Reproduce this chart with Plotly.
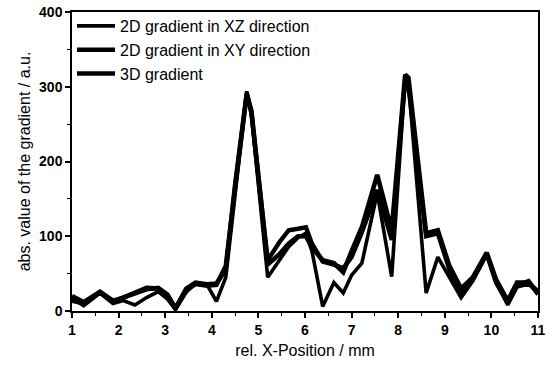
import plotly.graph_objects as go

# rel. X-position (mm)
x_pos = [1.0, 1.25, 1.6, 1.88, 2.1, 2.35, 2.6, 2.85, 3.05, 3.22, 3.45, 3.65, 3.9, 4.1,
         4.3, 4.5, 4.75, 4.85, 5.2, 5.45, 5.65, 5.85, 6.02, 6.15, 6.38, 6.62, 6.82, 7.0,
         7.22, 7.55, 7.86, 8.15, 8.22, 8.6, 8.85, 9.1, 9.35, 9.6, 9.9, 10.1, 10.35, 10.55,
         10.8, 11.0]

grad_xz = [18, 7, 24, 10, 14, 8, 18, 26, 16, 2, 25, 37, 35, 13,
           45, 160, 294, 262, 45, 68, 86, 98, 104, 80, 6, 38, 24, 48,
           64, 158, 46, 312, 305, 24, 72, 45, 18, 40, 76, 40, 8, 32,
           36, 24]
grad_xy = [14, 10, 25, 12, 18, 25, 31, 30, 20, 3, 28, 36, 34, 35,
           60, 165, 290, 268, 62, 76, 90, 100, 100, 85, 68, 64, 52, 80,
           112, 182, 108, 316, 312, 104, 108, 60, 30, 45, 78, 42, 14, 38,
           38, 26]
grad_3d = [20, 12, 26, 14, 18, 24, 29, 31, 22, 4, 30, 38, 36, 37,
           55, 170, 292, 265, 68, 92, 108, 110, 112, 90, 66, 62, 57, 72,
           105, 162, 95, 310, 300, 100, 104, 55, 25, 42, 76, 38, 10, 35,
           40, 22]

series = [("2D gradient in XZ direction", grad_xz, 3.6),
          ("2D gradient in XY direction", grad_xy, 4.6),
          ("3D gradient", grad_3d, 4.4)]

fig = go.Figure()
for name, vals, w in series:
    fig.add_trace(go.Scatter(x=x_pos, y=vals, mode="lines", name=name,
                             line=dict(color="black", width=w)))

font_family = "Liberation Sans, Arial, sans-serif"
fig.update_layout(
    width=547, height=365,
    margin=dict(l=72, r=9, t=12, b=54, autoexpand=False),
    paper_bgcolor="white", plot_bgcolor="white",
    font=dict(family=font_family, color="black", size=14),
    showlegend=True,
    legend=dict(x=0.0, y=1.01, xanchor="left", yanchor="top",
                bgcolor="rgba(0,0,0,0)", borderwidth=0,
                font=dict(size=16, family=font_family),
                itemwidth=38, tracegroupgap=0,
                traceorder="normal"),
)
fig.update_xaxes(
    range=[1, 11], showgrid=False, zeroline=False, automargin=False,
    showline=True, linecolor="black", linewidth=1.5, mirror=True,
    ticks="outside", ticklen=5, tickwidth=1.5, tickcolor="black",
    tick0=1, dtick=1,
    tickfont=dict(size=14, family=font_family, weight="bold"),
    minor=dict(ticks="outside", ticklen=3, tickwidth=1.2, tickcolor="black", dtick=0.5, tick0=1),
    title=dict(text="rel. X-Position / mm", font=dict(size=16), standoff=8),
)
fig.update_yaxes(
    range=[0, 400], showgrid=False, zeroline=False, automargin=False,
    showline=True, linecolor="black", linewidth=1.5, mirror=True,
    ticks="outside", ticklen=5, tickwidth=1.5, tickcolor="black",
    tick0=0, dtick=100,
    tickfont=dict(size=14, family=font_family, weight="bold"),
    minor=dict(ticks="outside", ticklen=3, tickwidth=1.2, tickcolor="black", dtick=50),
    title=dict(text="abs. value of the gradient / a.u.", font=dict(size=16), standoff=4),
)

fig.write_html("out.html",
               config={"displayModeBar": False},
               post_script="document.body.style.margin='0px';document.body.style.overflow='hidden';")
